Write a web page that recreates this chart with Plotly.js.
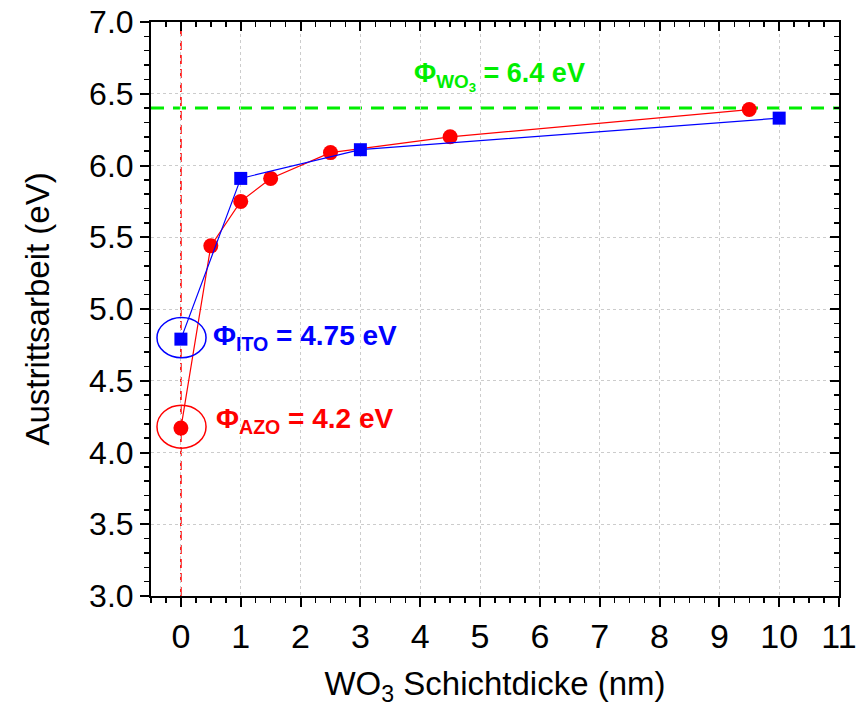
<!DOCTYPE html>
<html>
<head>
<meta charset="utf-8">
<script src="https://cdn.plot.ly/plotly-3.0.1.min.js"></script>
<style>html,body{margin:0;padding:0;background:#fff;}#chart{width:856px;height:707px;}</style>
</head>
<body>
<div id="chart"></div>
<script>
// WO3 thickness (nm) and work function (eV)
const itoThickness = [0, 1, 3, 10];
const itoWorkFunction = [4.79, 5.91, 6.11, 6.33];
const azoThickness = [0, 0.5, 1, 1.5, 2.5, 4.5, 9.5];
const azoWorkFunction = [4.17, 5.44, 5.75, 5.91, 6.09, 6.20, 6.39];
const wo3WorkFunction = 6.4;
const xTickValues = [0,1,2,3,4,5,6,7,8,9,10,11];
const yTickValues = [3.0,3.5,4.0,4.5,5.0,5.5,6.0,6.5,7.0];

const font = 'Liberation Sans, Arial, sans-serif';
const traces = [
  {x: azoThickness, y: azoWorkFunction, mode: 'lines+markers', name: 'AZO',
   line: {color: '#ff0000', width: 1.2}, marker: {symbol: 'circle', size: 15, color: '#ff0000'}},
  {x: itoThickness, y: itoWorkFunction, mode: 'lines+markers', name: 'ITO',
   line: {color: '#0000ff', width: 1.2}, marker: {symbol: 'square', size: 13, color: '#0000ff'}},
  {x: [0], y: [3], xaxis: 'x2', yaxis: 'y2', mode: 'markers', marker: {opacity: 0}, hoverinfo: 'skip', showlegend: false}
];

const axCommon = {
  showline: true, linecolor: '#000', linewidth: 2, mirror: false,
  zeroline: false, tickcolor: '#000', tickwidth: 2, ticklen: 9
};

const layout = {
  width: 856, height: 707,
  margin: {l: 151, r: 17, t: 22, b: 111},
  paper_bgcolor: '#fff', plot_bgcolor: '#fff',
  showlegend: false,
  font: {family: font, color: '#000'},
  xaxis: Object.assign({}, axCommon, {
    range: [-0.5, 11], tickvals: xTickValues, ticktext: xTickValues.map(String),
    ticks: 'outside', showgrid: true, gridcolor: '#cccccc', griddash: 'dot', gridwidth: 1,
    tickfont: {size: 34, family: font}, ticklabeloverflow: 'allow',
    minor: {dtick: 0.25, tick0: 0, ticks: 'outside', ticklen: 5, tickwidth: 1.5, tickcolor: '#000', showgrid: false},
    title: {text: 'WO<sub>3</sub> Schichtdicke (nm)', font: {size: 33, family: font}, standoff: 18},
    automargin: false
  }),
  yaxis: Object.assign({}, axCommon, {
    range: [3, 7], tickvals: yTickValues, ticktext: yTickValues.map(v => v.toFixed(1)),
    ticks: 'outside', showgrid: true, gridcolor: '#cccccc', griddash: 'dot', gridwidth: 1,
    tickfont: {size: 32, family: font}, ticklabeloverflow: 'allow',
    minor: {dtick: 0.1, tick0: 3, ticks: 'outside', ticklen: 5, tickwidth: 1.5, tickcolor: '#000', showgrid: false},
    title: {text: 'Austrittsarbeit (eV)', font: {size: 33, family: font}, standoff: 30},
    automargin: false
  }),
  xaxis2: Object.assign({}, axCommon, {
    overlaying: 'x', side: 'top', matches: 'x', range: [-0.5, 11], tickvals: xTickValues,
    ticks: 'inside', showticklabels: false, showgrid: false,
    minor: {dtick: 0.25, tick0: 0, ticks: 'inside', ticklen: 5, tickwidth: 1.5, tickcolor: '#000', showgrid: false}
  }),
  yaxis2: Object.assign({}, axCommon, {
    overlaying: 'y', side: 'right', matches: 'y', range: [3, 7], tickvals: yTickValues,
    ticks: 'inside', showticklabels: false, showgrid: false,
    minor: {dtick: 0.1, tick0: 3, ticks: 'inside', ticklen: 5, tickwidth: 1.5, tickcolor: '#000', showgrid: false}
  }),
  shapes: [
    {type: 'line', xref: 'paper', x0: 0, x1: 1, yref: 'y', y0: wo3WorkFunction, y1: wo3WorkFunction,
     line: {color: '#00ee00', width: 3, dash: '13px,9px'}, layer: 'below'},
    {type: 'line', xref: 'x', x0: azoThickness[0], x1: azoThickness[0], yref: 'paper', y0: 0, y1: 1,
     line: {color: '#ffffff', width: 2}, layer: 'below'},
    {type: 'line', xref: 'x', x0: azoThickness[0], x1: azoThickness[0], yref: 'paper', y0: 0, y1: 1,
     line: {color: '#ff0000', width: 1.6, dash: '9px,5px'}, layer: 'below'},
    {type: 'circle', xref: 'x', yref: 'y', x0: -0.40, x1: 0.42, y0: 4.66, y1: 4.94,
     line: {color: '#0000ff', width: 1.5}},
    {type: 'circle', xref: 'x', yref: 'y', x0: -0.40, x1: 0.42, y0: 4.03, y1: 4.33,
     line: {color: '#ff0000', width: 1.5}}
  ],
  annotations: [
    {xref: 'x', yref: 'y', x: 0.50, y: 4.80, xanchor: 'left', yanchor: 'middle', showarrow: false,
     text: '<b>Φ<sub>ITO</sub> = 4.75 eV</b>', font: {size: 28, color: '#0000ff', family: font}},
    {xref: 'x', yref: 'y', x: 0.56, y: 4.22, xanchor: 'left', yanchor: 'middle', showarrow: false,
     text: '<b>Φ<sub>AZO</sub> = 4.2 eV</b>', font: {size: 28, color: '#ff0000', family: font}},
    {xref: 'x', yref: 'y', x: 3.86, y: 6.62, xanchor: 'left', yanchor: 'middle', showarrow: false,
     text: '<b>Φ<sub>WO<sub>3</sub></sub> = 6.4 eV</b>', font: {size: 27, color: '#00ee00', family: font}}
  ]
};

Plotly.newPlot('chart', traces, layout, {displayModeBar: false, staticPlot: true});
</script>
</body>
</html>
